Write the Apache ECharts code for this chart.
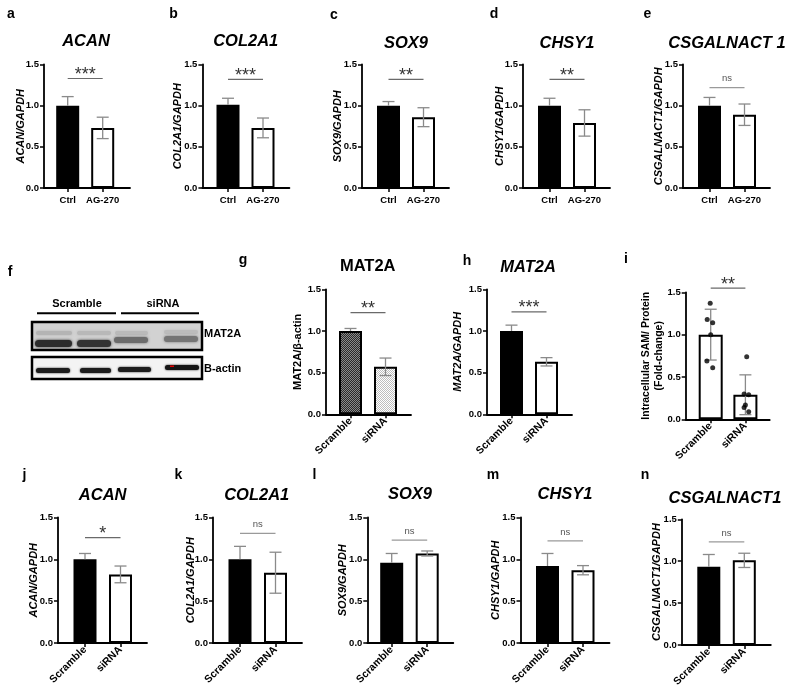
<!DOCTYPE html>
<html><head><meta charset="utf-8">
<script src="https://cdn.jsdelivr.net/npm/echarts@6/dist/echarts.min.js"></script>
<style>html,body{margin:0;padding:0;background:#fff}#c{width:795px;height:693px}</style>
</head><body><div id="c"></div><script>
const FONT = '"Liberation Sans", Arial, Helvetica, sans-serif';

// ---------- DATA ----------
const catsCtrl = ['Ctrl', 'AG-270'];
const catsSi = ['Scramble', 'siRNA'];
const yTickLabels = ['0.0', '0.5', '1.0', '1.5'];

const aMean = [1.00, 0.73], aSD = [0.11, 0.13], aSig = '***', aSigY = 1.33;
const bMean = [1.01, 0.73], bSD = [0.08, 0.12], bSig = '***', bSigY = 1.32;
const cMean = [1.00, 0.86], cSD = [0.05, 0.115], cSig = '**', cSigY = 1.32;
const dMean = [1.00, 0.79], dSD = [0.09, 0.16], dSig = '**', dSigY = 1.32;
const eMean = [1.00, 0.89], eSD = [0.10, 0.13], eSig = 'ns', eSigY = 1.22;
const gMean = [1.00, 0.57], gSD = [0.03, 0.105], gSig = '**', gSigY = 1.22;
const hMean = [1.00, 0.63], hSD = [0.07, 0.05], hSig = '***', hSigY = 1.23;
const iMean = [1.00, 0.29], iSD = [0.30, 0.235], iSig = '**', iSigY = 1.55;
const iDotsScramble = [1.37, 1.18, 1.14, 1.00, 0.69, 0.61];
const iDotsSiRNA = [0.74, 0.30, 0.29, 0.17, 0.14, 0.09];
const jMean = [1.00, 0.82], jSD = [0.07, 0.10], jSig = '*', jSigY = 1.26;
const kMean = [1.00, 0.84], kSD = [0.155, 0.245], kSig = 'ns', kSigY = 1.31;
const lMean = [0.96, 1.07], lSD = [0.11, 0.03], lSig = 'ns', lSigY = 1.23;
const mMean = [0.92, 0.87], mSD = [0.15, 0.055], mSig = 'ns', mSigY = 1.22;
const nMean = [0.935, 1.01], nSD = [0.145, 0.085], nSig = 'ns', nSigY = 1.23;

// ---------- STYLE / LAYOUT ----------
const iJitterA = [-0.5, -3.5, 2, 0, -3.8, 2];
const iJitterB = [1.3, -1.3, 3.3, 0, -1.3, 3.3];

function checker(c1, c2, s) {
  const cv = document.createElement('canvas');
  cv.width = cv.height = s * 2;
  const ctx = cv.getContext('2d');
  ctx.fillStyle = c1; ctx.fillRect(0, 0, s * 2, s * 2);
  ctx.fillStyle = c2; ctx.fillRect(0, 0, s, s); ctx.fillRect(s, s, s, s);
  return cv;
}
const FILL = {
  dark: '#000', light: '#fff',
  patDark: { image: checker('#2a2a2a', '#8a8a8a', 1), repeat: 'repeat' },
  patLight: { image: checker('#ffffff', '#bdbdbd', 1), repeat: 'repeat' }
};

const R1 = { top: 64.5, h: 123.5, c1: 26.5, sep: 35, L: 87, bw: 23, rot: 0 };
const R2 = { top: 289.3, h: 125, c1: 24.5, sep: 35, L: 85, bw: 23, rot: 45 };
const R3 = { top: 517.5, h: 125.5, c1: 27, sep: 35.5, L: 89, bw: 23, rot: 45 };

const panels = [
  Object.assign({}, R1, { id: 'a', title: 'ACAN', it: true, cats: catsCtrl, mean: aMean, sd: aSD, sig: aSig, sigY: aSigY, yName: 'ACAN/GAPDH', fills: ['dark', 'light'], ax: 44, c1: 23.7, L: 86, nc: 25, tx: 86, ty: 41, lx: 11, ly: 14.5 }),
  Object.assign({}, R1, { id: 'b', title: 'COL2A1', it: true, cats: catsCtrl, mean: bMean, sd: bSD, sig: bSig, sigY: bSigY, yName: 'COL2A1/GAPDH', fills: ['dark', 'light'], ax: 202.4, c1: 25.6, nc: 25.7, tx: 245.7, ty: 41, lx: 173.5, ly: 14.5 }),
  Object.assign({}, R1, { id: 'c', title: 'SOX9', it: true, cats: catsCtrl, mean: cMean, sd: cSD, sig: cSig, sigY: cSigY, yName: 'SOX9/GAPDH', fills: ['dark', 'light'], ax: 362, nc: 25.3, tx: 406, ty: 43, lx: 334, ly: 15 }),
  Object.assign({}, R1, { id: 'd', title: 'CHSY1', it: true, cats: catsCtrl, mean: dMean, sd: dSD, sig: dSig, sigY: dSigY, yName: 'CHSY1/GAPDH', fills: ['dark', 'light'], ax: 523, nc: 25, tx: 567, ty: 43, lx: 494, ly: 14.5 }),
  Object.assign({}, R1, { id: 'e', title: 'CSGALNACT 1', it: true, cats: catsCtrl, mean: eMean, sd: eSD, sig: eSig, sigY: eSigY, yName: 'CSGALNACT1/GAPDH', fills: ['dark', 'light'], ax: 683, nc: 26, tx: 727, ty: 43, lx: 647.5, ly: 14.5 }),
  Object.assign({}, R2, { id: 'g', title: 'MAT2A', it: false, cats: catsSi, mean: gMean, sd: gSD, sig: gSig, sigY: gSigY, yName: 'MAT2A/\u03b2-actin', yIt: false, fills: ['patDark', 'patLight'], ax: 326, nc: 29.3, tx: 367.7, ty: 266.5, lx: 243, ly: 260 }),
  Object.assign({}, R2, { id: 'h', title: 'MAT2A', it: true, cats: catsSi, mean: hMean, sd: hSD, sig: hSig, sigY: hSigY, yName: 'MAT2A/GAPDH', fills: ['dark', 'light'], ax: 487, nc: 30.3, tx: 528, ty: 267, lx: 467, ly: 261 }),
  Object.assign({}, R2, { id: 'i', title: '', cats: catsSi, mean: iMean, sd: iSD, sig: iSig, sigY: iSigY, yName: 'Intracellular SAM/ Protein\n(Fold-change)', yIt: false, lines: 2, fills: ['light', 'light'], ax: 685.7, top: 292.3, h: 127, c1: 25, sep: 34.7, L: 84, bw: 24, nc: 35, lx: 626, ly: 259, dots: [iDotsScramble, iDotsSiRNA], jit: [iJitterA, iJitterB] }),
  Object.assign({}, R3, { id: 'j', title: 'ACAN', it: true, cats: catsSi, mean: jMean, sd: jSD, sig: jSig, sigY: jSigY, yName: 'ACAN/GAPDH', fills: ['dark', 'light'], ax: 58, nc: 25.3, tx: 102.7, ty: 495, lx: 24.5, ly: 475 }),
  Object.assign({}, R3, { id: 'k', title: 'COL2A1', it: true, cats: catsSi, mean: kMean, sd: kSD, sig: kSig, sigY: kSigY, yName: 'COL2A1/GAPDH', fills: ['dark', 'light'], ax: 213, nc: 23.7, tx: 256.7, ty: 495, lx: 178.5, ly: 475 }),
  Object.assign({}, R3, { id: 'l', title: 'SOX9', it: true, cats: catsSi, mean: lMean, sd: lSD, sig: lSig, sigY: lSigY, yName: 'SOX9/GAPDH', fills: ['dark', 'light'], ax: 367.3, c1: 24.4, L: 86, nc: 26.3, tx: 410, ty: 494, lx: 314.5, ly: 475 }),
  Object.assign({}, R3, { id: 'm', title: 'CHSY1', it: true, cats: catsSi, mean: mMean, sd: mSD, sig: mSig, sigY: mSigY, yName: 'CHSY1/GAPDH', fills: ['dark', 'light'], ax: 520.5, nc: 26.5, tx: 565, ty: 494, lx: 493, ly: 475 }),
  Object.assign({}, R3, { id: 'n', title: 'CSGALNACT1', it: true, cats: catsSi, mean: nMean, sd: nSD, sig: nSig, sigY: nSigY, yName: 'CSGALNACT1/GAPDH', fills: ['dark', 'light'], ax: 681.8, top: 519.3, h: 125.7, nc: 26.8, tx: 725, ty: 498, lx: 645, ly: 475 })
];

const ERR = '#8a8a8a';
const grids = [], xAxes = [], yAxes = [], series = [], graphics = [];

function txt(x, y, text, font, align, fill) {
  return { type: 'text', x: x, y: y, silent: true,
    style: { text: text, font: font, textAlign: align || 'center', textVerticalAlign: 'middle', align: align || 'center', verticalAlign: 'middle', fill: fill || '#000' } };
}

panels.forEach(function (p) {
  const g0 = grids.length;
  grids.push({ left: p.ax, top: p.top, width: p.L, height: p.h, outerBoundsMode: 'none' });
  grids.push({ left: p.ax + p.c1 - p.sep / 2, top: p.top, width: 2 * p.sep, height: p.h, outerBoundsMode: 'none' });
  const lines = p.lines || 1;
  const yIt = p.yIt === undefined ? true : p.yIt;
  xAxes.push({ gridIndex: g0, type: 'category', data: [''], axisLine: { show: true, lineStyle: { color: '#000', width: 1.8 } }, axisTick: { show: false }, axisLabel: { show: false }, splitLine: { show: false } });
  yAxes.push({ gridIndex: g0, type: 'value', min: 0, max: 1.5, interval: 0.5,
    axisLine: { show: true, lineStyle: { color: '#000', width: 1.8 } },
    axisTick: { show: true, length: 4, lineStyle: { color: '#000', width: 1.5 } },
    axisLabel: { fontFamily: FONT, fontWeight: 'bold', fontSize: 9.5, color: '#000', margin: 5, formatter: function (v) { return yTickLabels[Math.round(v * 2)]; } },
    splitLine: { show: false },
    name: p.yName, nameLocation: 'middle', nameGap: lines > 1 ? p.nc - 15 : p.nc - 8, nameMoveOverlap: false,
    nameTextStyle: { fontFamily: FONT, fontWeight: 'bold', fontStyle: yIt ? 'italic' : 'normal', fontSize: lines > 1 ? 10.5 : 11, color: '#000', lineHeight: 13 } });
  xAxes.push({ gridIndex: g0 + 1, type: 'category', data: p.cats,
    axisLine: { show: false },
    axisTick: { show: true, alignWithLabel: true, length: 4, lineStyle: { color: '#000', width: 1.5 } },
    axisLabel: { interval: 0, rotate: p.rot, margin: p.rot ? 5 : 7, fontFamily: FONT, fontWeight: 'bold', fontSize: p.rot ? 10.5 : 9.5, color: '#000' } });
  yAxes.push({ gridIndex: g0 + 1, type: 'value', min: 0, max: 1.5, show: false });
  const xi = xAxes.length - 1, yi = yAxes.length - 1;

  series.push({ type: 'bar', xAxisIndex: xi, yAxisIndex: yi, barWidth: p.bw, z: 2, animation: false,
    data: p.mean.map(function (v, k) { return { value: v, itemStyle: { color: FILL[p.fills[k]], borderColor: '#000', borderWidth: 2 } }; }) });

  const darkFill = p.fills.map(function (f) { return (f === 'dark' || f === 'patDark') ? 1 : 0; });
  series.push({ type: 'custom', xAxisIndex: xi, yAxisIndex: yi, z: 3, animation: false, silent: true,
    data: p.mean.map(function (v, k) { return [k, v, p.sd[k], darkFill[k]]; }),
    renderItem: function (params, api) {
      const x = api.value(0), m = api.value(1), s = api.value(2), dk = api.value(3);
      const t = api.coord([x, m + s]), c = api.coord([x, m]), b = api.coord([x, m - s]);
      const st = { stroke: ERR, lineWidth: 1.3 };
      const cap = 6;
      const ch = [
        { type: 'line', shape: { x1: t[0], y1: t[1], x2: c[0], y2: c[1] }, style: st },
        { type: 'line', shape: { x1: t[0] - cap, y1: t[1], x2: t[0] + cap, y2: t[1] }, style: st }
      ];
      if (!dk) {
        ch.push({ type: 'line', shape: { x1: c[0], y1: c[1], x2: b[0], y2: b[1] }, style: st });
        ch.push({ type: 'line', shape: { x1: b[0] - cap, y1: b[1], x2: b[0] + cap, y2: b[1] }, style: st });
      }
      return { type: 'group', children: ch };
    } });

  const isNs = p.sig === 'ns';
  series.push({ type: 'custom', xAxisIndex: xi, yAxisIndex: yi, z: 3, animation: false, silent: true, clip: false,
    data: [[0, p.sigY]],
    renderItem: function (params, api) {
      const y = api.value(1);
      const a = api.coord([0, y]), b = api.coord([1, y]);
      return { type: 'group', children: [
        { type: 'line', shape: { x1: a[0], y1: a[1], x2: b[0], y2: b[1] }, style: { stroke: isNs ? '#9a9a9a' : '#6a6a6a', lineWidth: 1.2 } },
        { type: 'text', x: (a[0] + b[0]) / 2, y: a[1] - (isNs ? 9 : 3.5),
          style: { text: p.sig, font: (isNs ? 'normal 9.5px ' : 'normal 18px ') + FONT, fill: isNs ? '#555' : '#333', textAlign: 'center', textVerticalAlign: 'middle', align: 'center', verticalAlign: 'middle' } }
      ] };
    } });

  if (p.dots) {
    const pts = [];
    p.dots.forEach(function (arr, k) {
      arr.forEach(function (v, q) { pts.push({ value: [k, v], symbolOffset: [p.jit[k][q], 0] }); });
    });
    series.push({ type: 'scatter', xAxisIndex: xi, yAxisIndex: yi, z: 4, animation: false, symbolSize: 5, itemStyle: { color: '#000' }, data: pts });
  }

  if (p.title) graphics.push(txt(p.tx, p.ty, p.title, (p.it ? 'italic ' : '') + 'bold 16.5px ' + FONT));
  graphics.push(txt(p.lx, p.ly, p.id, 'bold 14px ' + FONT));
});

// panel f : western blot illustration
graphics.push(txt(10, 272, 'f', 'bold 14px ' + FONT));
graphics.push(txt(77, 304, 'Scramble', 'bold 11px ' + FONT));
graphics.push(txt(163, 304, 'siRNA', 'bold 11px ' + FONT));
graphics.push({ type: 'line', shape: { x1: 37, y1: 313.3, x2: 116, y2: 313.3 }, style: { stroke: '#000', lineWidth: 2 } });
graphics.push({ type: 'line', shape: { x1: 121, y1: 313.3, x2: 199, y2: 313.3 }, style: { stroke: '#000', lineWidth: 2 } });
graphics.push({ type: 'rect', shape: { x: 32, y: 322, width: 170, height: 28 }, style: { fill: '#d2d2d2', stroke: 'none' } });
function band(x, y, w, h, c, blur) {
  graphics.push({ type: 'rect', shape: { x: x, y: y, width: w, height: h, r: h / 2 }, style: { fill: c, shadowBlur: blur, shadowColor: c } });
}
band(36, 331, 36, 4, '#b4b4b4', 3); band(77, 331, 34, 4, '#b8b8b8', 3);
band(115, 331, 33, 4, '#bababa', 3); band(164, 330, 34, 4, '#bcbcbc', 3);
band(35, 340, 37, 7, '#2c2c2c', 3); band(77, 340, 34, 7, '#333', 3);
band(114, 337, 34, 6, '#6c6c6c', 3); band(164, 336, 34, 6, '#757575', 3);
graphics.push({ type: 'rect', shape: { x: 32, y: 322, width: 170, height: 28 }, style: { fill: 'none', stroke: '#000', lineWidth: 2.5 } });
graphics.push({ type: 'rect', shape: { x: 32, y: 357, width: 170, height: 22 }, style: { fill: '#f3f3f3', stroke: 'none' } });
band(36, 368, 34, 5, '#1c1c1c', 2); band(80, 368, 31, 5, '#1c1c1c', 2);
band(118, 367, 33, 5, '#1c1c1c', 2); band(165, 365, 34, 5, '#151515', 2);
graphics.push({ type: 'rect', shape: { x: 170, y: 365.5, width: 4, height: 1.5 }, style: { fill: '#e00000' } });
graphics.push({ type: 'rect', shape: { x: 32, y: 357, width: 170, height: 22 }, style: { fill: 'none', stroke: '#000', lineWidth: 2.5 } });
graphics.push(txt(204, 334, 'MAT2A', 'bold 11px ' + FONT, 'left'));
graphics.push(txt(204, 369, 'B-actin', 'bold 11px ' + FONT, 'left'));

const chart = echarts.init(document.getElementById('c'), null, { renderer: 'canvas' });
chart.setOption({
  animation: false,
  backgroundColor: '#fff',
  grid: grids, xAxis: xAxes, yAxis: yAxes, series: series,
  graphic: { elements: graphics }
});
</script></body></html>
